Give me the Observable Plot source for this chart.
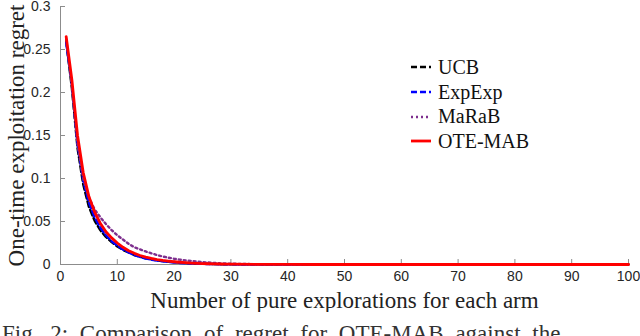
<!DOCTYPE html>
<html>
<head>
<meta charset="utf-8">
<script src="https://cdn.jsdelivr.net/npm/d3@7"></script>
<script src="https://cdn.jsdelivr.net/npm/@observablehq/plot@0.6"></script>
<style>
  html, body { margin: 0; padding: 0; background: #fff; width: 640px; height: 336px; overflow: hidden; }
  #wrap { position: relative; width: 640px; height: 312px; }
  #legend { position: absolute; left: 410px; top: 55px; font-family: "Liberation Serif", serif; font-size: 20px; color: #111; }
  #legend .row { display: flex; align-items: center; height: 24.7px; }
  #legend svg { margin-right: 6px; }
  #caption { font-family: "Liberation Serif", serif; font-size: 23px; color: #333; white-space: nowrap; word-spacing: 6px; margin: 9px 0 0 2px; }
</style>
</head>
<body>
<div id="wrap"><div id="chart"></div><div id="legend"></div></div>
<div id="caption">Fig. 2: Comparison of regret for OTE-MAB against the</div>
<script>
const xs = [1,2,3,4,5,6,7,8,9,10,11,12,13,14,15,16,17,18,19,20,21,22,23,24,25,26,27,28,29,30,
  35,40,45,50,55,60,65,70,75,80,85,90,95,100];
const ucb = [0.260,0.205,0.135,0.093,0.067,0.051,0.040,0.032,0.026,0.021,0.017,0.014,0.011,0.009,0.0073,0.006,0.0049,0.004,0.0033,0.0027,0.0022,0.0018,0.0014,0.0011,0.0009,0.0007,0.0005,0.0004,0.0003,0.0002,
  0.0001,0,0,0,0,0,0,0,0,0,0,0,0,0];
const expexp = [0.258,0.210,0.140,0.098,0.072,0.055,0.043,0.034,0.027,0.022,0.0175,0.014,0.011,0.0088,0.007,0.0056,0.0045,0.0036,0.0029,0.0023,0.0018,0.0014,0.0011,0.0009,0.0007,0.0005,0.0004,0.0003,0.0002,0.0001,
  0,0,0,0,0,0,0,0,0,0,0,0,0,0];
const marab = [0.262,0.208,0.140,0.100,0.078,0.064,0.055,0.047,0.040,0.034,0.029,0.024,0.020,0.0175,0.0152,0.013,0.011,0.0093,0.0079,0.0067,0.0057,0.0048,0.0041,0.0034,0.0028,0.0023,0.0018,0.0014,0.0011,0.0009,
  0.0003,0.0001,0,0,0,0,0,0,0,0,0,0,0,0];
const otemab = [0.265,0.215,0.150,0.107,0.079,0.061,0.048,0.038,0.031,0.025,0.020,0.016,0.013,0.0105,0.0085,0.007,0.0057,0.0047,0.0039,0.0032,0.0026,0.0021,0.0017,0.0014,0.0011,0.0009,0.0007,0.0006,0.0005,0.0004,
  0.0002,0.0001,0,0,0,0,0,0,0,0,0,0,0,0];
const seriesNames = ["UCB","ExpExp","MaRaB","OTE-MAB"];
const seriesValues = [ucb, expexp, marab, otemab];
const seriesColors = ["#000000","#0000ff","#7e2f8e","#ff0000"];
const seriesDash = ["6,3","6,3","2,3",null];
const seriesWidth = [2.4,2.4,2.4,2.8];
const xTicks = [0,10,20,30,40,50,60,70,80,90,100];
const yTicks = [0,0.05,0.1,0.15,0.2,0.25,0.3];
const xLabel = "Number of pure explorations for each arm";
const yLabel = "One-time exploitation regret";

const rows = [];
seriesNames.forEach((name, s) => xs.forEach((x, i) => rows.push({series: name, x, y: seriesValues[s][i]})));

const serif = "Liberation Serif";
const axisGray = "#8c8c8c";

const lineMarks = seriesNames.map((name, s) =>
  Plot.line(rows.filter(d => d.series === name), {
    x: "x", y: "y", stroke: seriesColors[s], strokeWidth: seriesWidth[s],
    strokeDasharray: seriesDash[s], strokeLinejoin: "round"
  })
);

const chart = Plot.plot({
  width: 640, height: 312,
  marginLeft: 60, marginRight: 12, marginTop: 6, marginBottom: 48,
  x: {domain: [0, 100]},
  y: {domain: [0, 0.3]},
  style: {fontFamily: "Liberation Sans", fontSize: "14px", color: "#262626", background: "white"},
  marks: [
    Plot.ruleY([0], {stroke: axisGray}),
    Plot.ruleX([0], {stroke: axisGray}),
    Plot.axisX(xTicks, {tickSize: -5, tickPadding: 12, stroke: axisGray, label: null, fill: "#262626"}),
    Plot.axisY(yTicks, {tickSize: -5, tickPadding: 15, stroke: axisGray, label: null, fill: "#262626",
      tickFormat: d => String(+d.toFixed(2))}),
    ...lineMarks,
    Plot.text([yLabel], {frameAnchor: "left", textAnchor: "middle", lineAnchor: "middle", rotate: -90, dx: -44, fontSize: 23, fontFamily: serif, fill: "#222"}),
    Plot.text([xLabel], {frameAnchor: "bottom", textAnchor: "middle", lineAnchor: "middle", dy: 36, fontSize: 23, fontFamily: serif, fill: "#222"})
  ]
});
document.getElementById("chart").appendChild(chart);

const legend = d3.select("#legend");
seriesNames.forEach((name, s) => {
  const row = legend.append("div").attr("class", "row");
  const svg = row.append("svg").attr("width", 22).attr("height", 10);
  svg.append("line").attr("x1", 1).attr("x2", 21).attr("y1", 5).attr("y2", 5)
    .attr("stroke", seriesColors[s]).attr("stroke-width", seriesWidth[s])
    .attr("stroke-dasharray", seriesDash[s]);
  row.append("span").text(name);
});
</script>
</body>
</html>
